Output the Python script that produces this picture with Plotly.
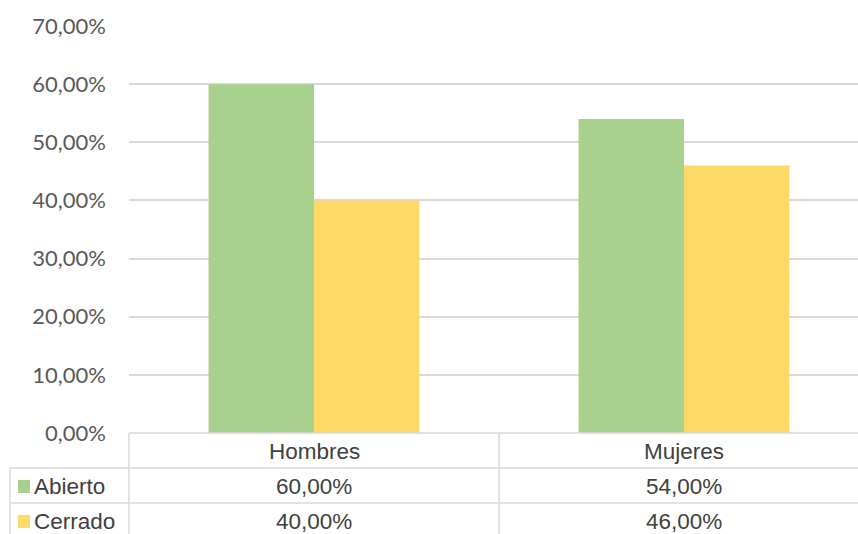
import plotly.graph_objects as go

categories = ["Hombres", "Mujeres"]
series_names = ["Abierto", "Cerrado"]
abierto = [0.60, 0.54]
cerrado = [0.40, 0.46]
series_values = [abierto, cerrado]
colors = ["#A9D18E", "#FFD966"]
tick_vals = [0, 0.1, 0.2, 0.3, 0.4, 0.5, 0.6, 0.7]

W, H = 858, 534
ML, MT, MB = 129, 26, 101
plot_h = H - MT - MB
plot_w = W - ML
cat_w = 370  # pixel width of one category slot (plot runs past the right edge)
x_end = -0.5 + plot_w / cat_w


def py(ypix):
    # pixel row -> paper y
    return (H - MB - ypix) / plot_h


def px(xpix):
    return (xpix - ML) / plot_w


def pct(v):
    return f"{v * 100:.2f}".replace(".", ",") + "%"


fig = go.Figure()
for name, vals, col in zip(series_names, series_values, colors):
    fig.add_trace(go.Bar(x=categories, y=vals, name=name, marker_color=col,
                         marker_line_width=0))

line_col = "#D9D9D9"
text_col = "#404040"
table_font = dict(family="Liberation Sans, Arial", size=22.5, color=text_col)

shapes = []
# table grid
shapes.append(dict(type="line", xref="paper", yref="paper", x0=0, x1=1, y0=py(433), y1=py(433),
                   line=dict(color=line_col, width=1.5)))
for yy in (468, 503):
    shapes.append(dict(type="line", xref="paper", yref="paper", x0=px(10), x1=1, y0=py(yy), y1=py(yy),
                       line=dict(color=line_col, width=1.5)))
shapes.append(dict(type="line", xref="paper", yref="paper", x0=px(10), x1=px(10), y0=py(468), y1=py(540),
                   line=dict(color=line_col, width=1.5)))
shapes.append(dict(type="line", xref="paper", yref="paper", x0=0, x1=0, y0=py(433), y1=py(540),
                   line=dict(color=line_col, width=1.5)))
shapes.append(dict(type="line", xref="x", yref="paper", x0=0.5, x1=0.5, y0=py(433), y1=py(540),
                   line=dict(color=line_col, width=1.5)))

annotations = []
row_centers = [451, 486, 521]
for i, c in enumerate(categories):
    annotations.append(dict(x=i, y=py(row_centers[0]), xref="x", yref="paper", text=c,
                            showarrow=False, font=table_font, xanchor="center", yanchor="middle"))
for r, (name, vals, col) in enumerate(zip(series_names, series_values, colors)):
    yc = row_centers[r + 1]
    shapes.append(dict(type="rect", xref="paper", yref="paper", x0=px(18), x1=px(30),
                       y0=py(yc - 6), y1=py(yc + 7), fillcolor=col, line=dict(width=0)))
    annotations.append(dict(x=px(32), y=py(yc), xref="paper", yref="paper", text=name,
                            showarrow=False, font=table_font, xanchor="left", yanchor="middle"))
    for i, v in enumerate(vals):
        annotations.append(dict(x=i, y=py(yc), xref="x", yref="paper", text=pct(v),
                                showarrow=False, font=table_font, xanchor="center", yanchor="middle"))

fig.update_layout(
    width=W, height=H,
    margin=dict(l=ML, r=0, t=MT, b=MB),
    paper_bgcolor="white", plot_bgcolor="white",
    barmode="group", bargap=0.43, bargroupgap=0,
    showlegend=False,
    separators=",.",
    shapes=shapes, annotations=annotations,
    xaxis=dict(showticklabels=False, showgrid=False, zeroline=False, showline=False,
               range=[-0.5, x_end]),
    yaxis=dict(range=[0, 0.7], tickvals=tick_vals, tickformat=".2%",
               showgrid=True, gridcolor=line_col, gridwidth=1.5, zeroline=False,
               showline=False, ticks="", ticklabelstandoff=22,
               tickfont=dict(family="Lato, Noto Sans", size=22, color="#595959")),
)

fig.write_html("out.html")
